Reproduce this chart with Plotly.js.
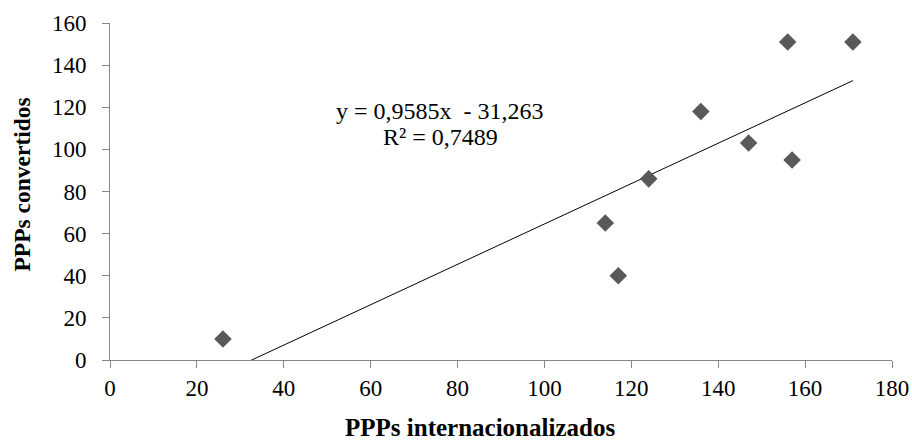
<!DOCTYPE html>
<html>
<head>
<meta charset="utf-8">
<script src="https://cdn.plot.ly/plotly-3.0.1.min.js"></script>
<style>html,body{margin:0;padding:0;background:#fff;}#chart{width:912px;height:441px;}</style>
</head>
<body>
<div id="chart"></div>
<script>
// Data
const ppp_internacionalizados = [26, 114, 117, 124, 136, 147, 156, 157, 171];
const ppp_convertidos = [10, 65, 40, 86, 118, 103, 151, 95, 151];
// Excel linear trendline shown on the chart
const trendSlope = 0.9585;
const trendIntercept = -31.263;
const rSquared = 0.7489;
const xTicks = [0, 20, 40, 60, 80, 100, 120, 140, 160, 180];
const yTicks = [0, 20, 40, 60, 80, 100, 120, 140, 160];
const xTitle = 'PPPs internacionalizados';
const yTitle = 'PPPs convertidos';

const xMin = Math.min(...ppp_internacionalizados);
const xMax = Math.max(...ppp_internacionalizados);
const trendX = [xMin, xMax];
const trendY = trendX.map(x => trendSlope * x + trendIntercept);

const fmt = (v, d) => v.toFixed(d).replace('.', ',');
const eqLine1 = 'y = ' + fmt(trendSlope, 4) + 'x  - ' + fmt(Math.abs(trendIntercept), 3);
const eqLine2 = 'R² = ' + fmt(rSquared, 4);

const FONT = '"Liberation Serif", "Times New Roman", serif';
const AX = '#868686';

const traces = [
  {
    x: trendX, y: trendY, type: 'scatter', mode: 'lines',
    line: {color: '#000000', width: 1}, hoverinfo: 'skip', showlegend: false
  },
  {
    x: ppp_internacionalizados, y: ppp_convertidos, type: 'scatter', mode: 'markers',
    marker: {symbol: 'diamond', size: 13.5, color: '#595959'}, showlegend: false
  }
];

const L = 110, R = 892, T = 23, B = 360;
const px = v => (v - L) / (R - L);
const py = v => (B - v) / (B - T);

const layout = {
  width: 912, height: 441,
  margin: {l: L, r: 912 - R, t: T, b: 441 - B},
  paper_bgcolor: '#ffffff', plot_bgcolor: '#ffffff',
  font: {family: FONT, size: 23, color: '#000000'},
  showlegend: false,
  xaxis: {
    range: [0, 180], tickvals: xTicks, ticktext: xTicks.map(String),
    showgrid: false, zeroline: false, showline: true, linecolor: AX, linewidth: 1,
    ticks: 'outside', ticklen: 7, tickcolor: AX, tickwidth: 1,
    tickfont: {family: FONT, size: 23, color: '#000'}, ticklabelstandoff: 0
  },
  yaxis: {
    range: [0, 160], tickvals: yTicks, ticktext: yTicks.map(String),
    showgrid: false, zeroline: false, showline: true, linecolor: AX, linewidth: 1,
    ticks: 'outside', ticklen: 7, tickcolor: AX, tickwidth: 1,
    tickfont: {family: FONT, size: 23, color: '#000'}, ticklabelstandoff: 11
  },
  annotations: [
    {
      text: '<b>' + xTitle + '</b>', xref: 'paper', yref: 'paper',
      x: px(480), y: py(427), xanchor: 'center', yanchor: 'middle',
      showarrow: false, font: {family: FONT, size: 25, color: '#000'}
    },
    {
      text: '<b>' + yTitle + '</b>', xref: 'paper', yref: 'paper', textangle: -90,
      x: px(22), y: py(184.5), xanchor: 'center', yanchor: 'middle',
      showarrow: false, font: {family: FONT, size: 23.5, color: '#000'}
    },
    {
      text: eqLine1, xref: 'paper', yref: 'paper',
      x: px(440), y: py(111), xanchor: 'center', yanchor: 'middle',
      showarrow: false, font: {family: FONT, size: 24, color: '#000'}
    },
    {
      text: eqLine2, xref: 'paper', yref: 'paper',
      x: px(440), y: py(136.5), xanchor: 'center', yanchor: 'middle',
      showarrow: false, font: {family: FONT, size: 24, color: '#000'}
    }
  ]
};

Plotly.newPlot('chart', traces, layout, {displayModeBar: false, staticPlot: true});
</script>
</body>
</html>
